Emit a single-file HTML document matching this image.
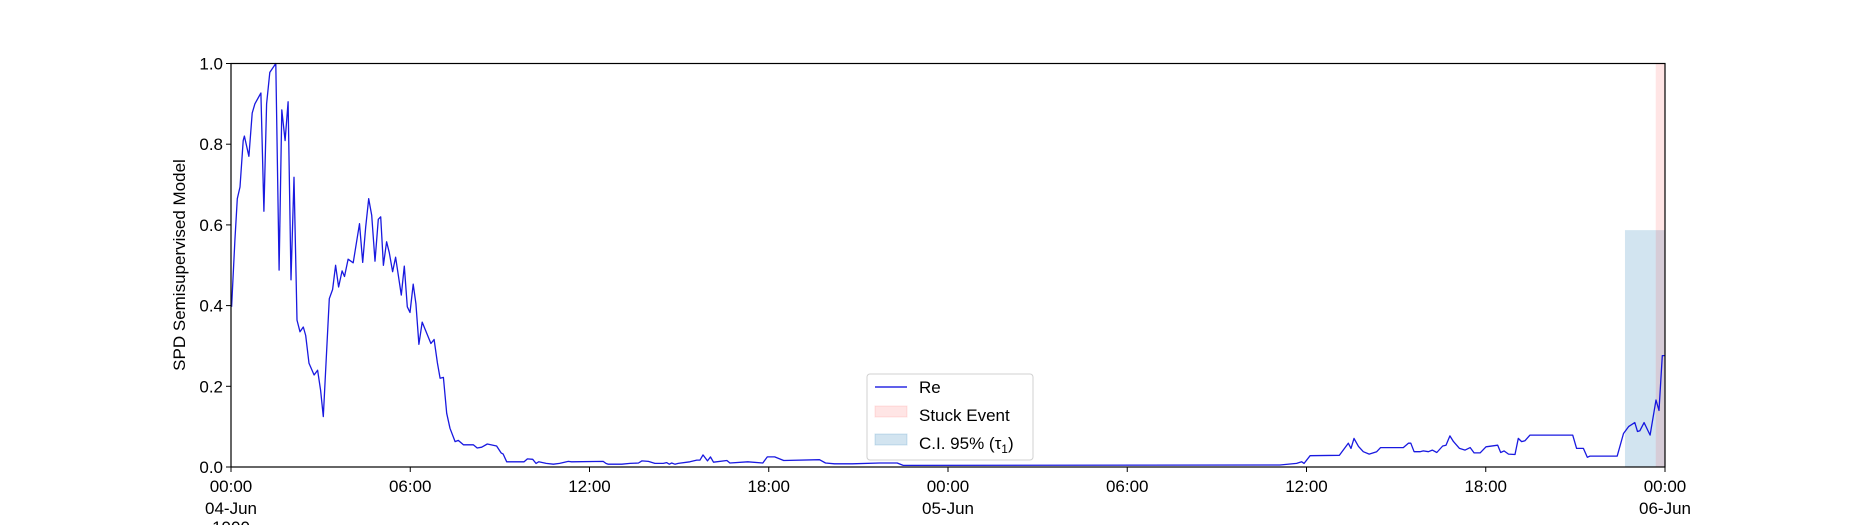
<!DOCTYPE html>
<html><head><meta charset="utf-8"><style>
html,body{margin:0;padding:0;background:#fff;}
svg{display:block;font-family:"Liberation Sans","DejaVu Sans",sans-serif;}
</style></head><body>
<svg id="chart" width="1850" height="525" viewBox="0 0 1850 525" xmlns="http://www.w3.org/2000/svg"></svg>
<script>
// hours since 00:00 04-Jun
const hours = [0.02,0.13,0.21,0.30,0.41,0.45,0.60,0.71,0.80,1.00,1.10,1.19,1.30,1.50,1.61,1.70,1.81,1.91,2.01,2.11,2.21,2.31,2.42,2.50,2.61,2.78,2.90,3.00,3.09,3.29,3.40,3.50,3.60,3.72,3.80,3.92,4.09,4.30,4.41,4.51,4.61,4.71,4.82,4.93,5.01,5.10,5.21,5.30,5.41,5.51,5.70,5.80,5.90,5.99,6.10,6.19,6.29,6.40,6.69,6.80,6.91,7.00,7.11,7.22,7.33,7.50,7.61,7.78,8.11,8.24,8.39,8.58,8.89,9.04,9.11,9.23,9.81,9.92,10.10,10.21,10.30,10.55,10.79,11.00,11.29,11.40,12.46,12.55,12.63,13.08,13.36,13.64,13.75,13.97,14.19,14.47,14.58,14.67,14.75,14.86,14.97,15.36,15.59,15.70,15.80,15.95,16.05,16.15,16.60,16.70,17.30,17.80,17.95,18.20,18.50,19.70,19.90,20.20,20.80,21.70,22.30,22.50,35.11,35.67,35.84,35.92,36.12,37.10,37.40,37.49,37.59,37.74,37.90,38.10,38.35,38.48,39.24,39.41,39.49,39.60,39.80,39.91,40.08,40.21,40.36,40.56,40.67,40.80,40.92,41.12,41.31,41.48,41.61,41.81,42.01,42.40,42.50,42.61,42.76,42.98,43.09,43.20,43.31,43.48,44.91,45.04,45.27,45.40,45.49,46.40,46.61,46.78,46.99,47.08,47.16,47.30,47.50,47.70,47.80,47.91,48.00];
const values = [0.397,0.562,0.665,0.694,0.809,0.820,0.770,0.877,0.900,0.927,0.634,0.900,0.978,1.000,0.488,0.885,0.809,0.905,0.464,0.718,0.364,0.335,0.347,0.326,0.257,0.228,0.240,0.190,0.125,0.417,0.440,0.500,0.446,0.486,0.472,0.515,0.506,0.603,0.507,0.595,0.665,0.624,0.510,0.614,0.620,0.500,0.558,0.531,0.484,0.520,0.426,0.498,0.397,0.383,0.453,0.405,0.304,0.359,0.306,0.316,0.258,0.220,0.222,0.133,0.096,0.063,0.066,0.055,0.055,0.047,0.049,0.057,0.052,0.035,0.032,0.013,0.013,0.020,0.019,0.009,0.013,0.009,0.007,0.009,0.014,0.013,0.014,0.009,0.007,0.007,0.009,0.010,0.015,0.014,0.009,0.009,0.011,0.007,0.010,0.007,0.009,0.013,0.017,0.017,0.030,0.015,0.025,0.012,0.016,0.010,0.013,0.010,0.025,0.025,0.016,0.018,0.010,0.008,0.008,0.010,0.010,0.004,0.005,0.009,0.013,0.009,0.028,0.029,0.059,0.046,0.071,0.051,0.038,0.032,0.038,0.048,0.048,0.059,0.059,0.038,0.038,0.040,0.038,0.042,0.036,0.052,0.054,0.077,0.063,0.046,0.042,0.048,0.035,0.035,0.050,0.054,0.036,0.040,0.032,0.031,0.071,0.063,0.065,0.079,0.079,0.046,0.046,0.024,0.027,0.027,0.083,0.100,0.110,0.088,0.090,0.110,0.079,0.166,0.140,0.276,0.276];
const ciRange = [46.66, 48.0];
const ciTop = [0.587];
const stuckRange = [47.69, 48.0];
const yTicks = [0.0,0.2,0.4,0.6,0.8,1.0];
const xTickHours = [0,6,12,18,24,30,36,42,48];
const xTickLabels = ["00:00","06:00","12:00","18:00","00:00","06:00","12:00","18:00","00:00"];
const xTickSub = ["04-Jun","","","","05-Jun","","","","06-Jun"];

const L=231,R=1665,T=63.5,B=467;
const xs=h=>L+(h/48)*(R-L);
const ys=v=>B-v*(B-T);
const svg=document.getElementById('chart');
const NS='http://www.w3.org/2000/svg';
function mk(tag,attrs,parent){const e=document.createElementNS(NS,tag);for(const k in attrs)e.setAttribute(k,attrs[k]);(parent||svg).appendChild(e);return e;}

const ci=mk('rect',{x:xs(ciRange[0]),y:ys(ciTop[0]),width:xs(ciRange[1])-xs(ciRange[0]),height:B-ys(ciTop[0]),fill:'#1f77b4','fill-opacity':0.2});


const st=mk('rect',{x:xs(stuckRange[0]),y:T,width:xs(stuckRange[1])-xs(stuckRange[0]),height:B-T,fill:'#ff0000','fill-opacity':0.1});



let d='';hours.forEach((h,i)=>{d+=(i?'L':'M')+xs(h).toFixed(1)+' '+ys(values[i]).toFixed(1);});
const line=mk('path',{d:d,fill:'none',stroke:'#0000dd','stroke-opacity':0.9,'stroke-width':1.3,'stroke-linejoin':'round'});



const frame=mk('rect',{x:L,y:T,width:R-L,height:B-T,fill:'none',stroke:'#000','stroke-width':1.2});



yTicks.forEach(v=>{
  mk('line',{x1:L-5,x2:L,y1:ys(v),y2:ys(v),stroke:'#000','stroke-width':1});
  const t=mk('text',{x:L-8,y:ys(v)+6,'text-anchor':'end','font-size':17,fill:'#000'});
  t.textContent=v.toFixed(1);
  
  
});
xTickHours.forEach((h,i)=>{
  mk('line',{x1:xs(h),x2:xs(h),y1:B,y2:B+5,stroke:'#000','stroke-width':1});
  const t=mk('text',{x:xs(h),y:492,'text-anchor':'middle','font-size':17,fill:'#000'});
  t.textContent=xTickLabels[i];
  
  
  if(xTickSub[i]){
    const s=mk('text',{x:xs(h),y:514,'text-anchor':'middle','font-size':17,fill:'#000'});
    s.textContent=xTickSub[i];
    
    
  }
});
const yr=mk('text',{x:xs(0),y:533,'text-anchor':'middle','font-size':17,fill:'#000'});
yr.textContent='1900';



const yl=mk('text',{x:0,y:0,transform:'translate(185,265) rotate(-90)','text-anchor':'middle','font-size':17,fill:'#000'});
yl.textContent='SPD Semisupervised Model';



// legend
const lg=mk('g',{});


mk('rect',{x:867,y:374,width:166,height:86,rx:3,fill:'#fff','fill-opacity':0.8,stroke:'#d0d0d0','stroke-width':1},lg);
mk('line',{x1:875,x2:907,y1:387,y2:387,stroke:'#0000dd','stroke-width':1.3},lg);
mk('rect',{x:875,y:406,width:32,height:11,fill:'#ff0000','fill-opacity':0.1,stroke:'#ff0000','stroke-opacity':0.1},lg);
mk('rect',{x:875,y:434,width:32,height:11,fill:'#1f77b4','fill-opacity':0.2,stroke:'#1f77b4','stroke-opacity':0.2},lg);
const lt=[['Re',393],['Stuck Event',421],['C.I. 95% (τ',449]];
lt.forEach((e,i)=>{const t=mk('text',{x:919,y:e[1],'font-size':17,fill:'#000'},lg);t.textContent=e[0];
  
  
  if(i==2){const s=mk('tspan',{'font-size':12,dy:4},t);s.textContent='1';const c=mk('tspan',{dy:-4},t);c.textContent=')';}
});
</script>
</body></html>
